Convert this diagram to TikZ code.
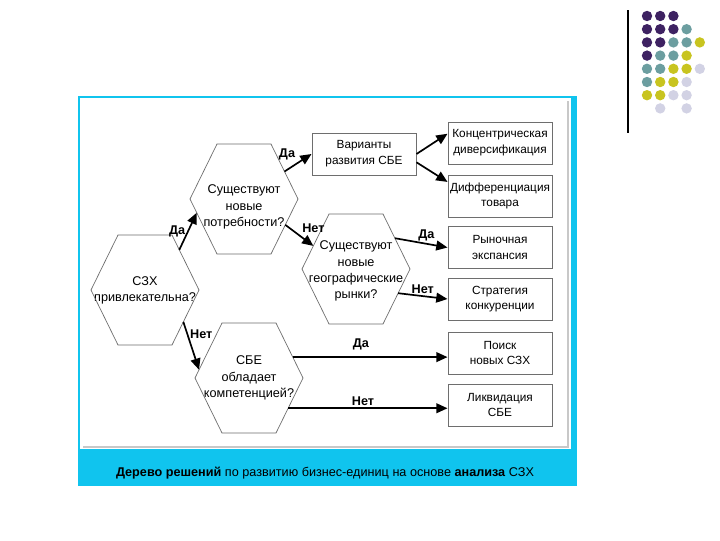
\documentclass[tikz,border=0pt]{standalone}
\usepackage{fontspec}
\setmainfont{Liberation Sans}
\usetikzlibrary{calc, positioning}
\usetikzlibrary{arrows.meta}

\definecolor{bandcyan}{RGB}{16,196,238}
\definecolor{shadowgray}{RGB}{200,200,200}
\definecolor{edgegray}{RGB}{110,110,110}
\definecolor{dotP}{RGB}{62,34,98}
\definecolor{dotT}{RGB}{108,158,160}
\definecolor{dotY}{RGB}{200,196,32}
\definecolor{dotL}{RGB}{210,210,228}
\definecolor{dotX}{RGB}{255,255,255}
\newcommand\qfont{\fontsize{9}{11.5}\selectfont}
\newcommand\bfont{\fontsize{8.4}{11.2}\selectfont}

\begin{document}
\begin{tikzpicture}[x=0.025cm, y=-0.025cm,
  qtext/.style={align=center, inner sep=0pt, font=\qfont},
  hexline/.style={draw=edgegray, line width=0.5pt},
  optbox/.style={draw=edgegray, line width=0.7pt, minimum width=2.6cm, minimum height=1.05cm, inner xsep=0pt, inner ysep=1pt, align=center, font=\bfont},
  flow/.style={line width=1.2pt, -{Triangle[length=8pt,width=7pt]}},
  yesno/.style={font=\bfseries\qfont, inner sep=1.5pt}]
\useasboundingbox (0,0) rectangle (720,540);

\draw[line width=1pt] (628,10) -- (628,133);
\foreach \j/\row in {0/{P,P,P},1/{P,P,P,T},2/{P,P,T,T,Y},3/{P,T,T,Y},4/{T,T,Y,Y,L},5/{T,Y,Y,L},6/{Y,Y,L,L},7/{X,L,X,L}}
  \foreach \c [count=\i from 0] in \row
    \fill[dot\c] (647+13.2*\i, 16+13.2*\j) circle[radius=3.7pt];

\fill[bandcyan] (78,96) rectangle (577,486);
\fill[white] (80,98) rectangle (571,449);
\draw[shadowgray, line width=2pt] (83,447) -- (568,447) -- (568,101);

\node[qtext] (Szx) at (145,290) {СЗХ\\привлекательна?};
\node[qtext] (Needs) at (244,207) {Существуют\\новые\\потребности?};
\node[qtext] (Geo) at (356,271) {Существуют\\новые\\географические\\рынки?};
\node[qtext] (Comp) at (249,378) {СБЕ\\обладает\\компетенцией?};
\foreach \h/\dy in {Szx/0,Needs/-8,Geo/-2,Comp/0}{
  \coordinate (\h W) at ($(\h)+(-54,\dy)$);
  \coordinate (\h NW) at ($(\h)+(-27,\dy-55)$);
  \coordinate (\h NE) at ($(\h)+(27,\dy-55)$);
  \coordinate (\h E) at ($(\h)+(54,\dy)$);
  \coordinate (\h SE) at ($(\h)+(27,\dy+55)$);
  \coordinate (\h SW) at ($(\h)+(-27,\dy+55)$);
  \draw[hexline] (\h W) -- (\h NW) -- (\h NE) -- (\h E) -- (\h SE) -- (\h SW) -- cycle;
}

\node[optbox] (Options) at (364,154) {Варианты\\развития СБЕ};
\node[optbox] (Conc) at (500,143) {Концентрическая\\диверсификация};
\node[optbox] (Diff) at (500,196) {Дифференциация\\товара};
\node[optbox] (Expan) at (500,247.5) {Рыночная\\экспансия};
\node[optbox] (Rival) at (500,299) {Стратегия\\конкуренции};
\node[optbox] (Search) at (500,353) {Поиск\\новых СЗХ};
\node[optbox] (Liquid) at (500,405) {Ликвидация\\СБЕ};

\draw[flow] ($(SzxNE)!.27!(SzxE)$) -- node[yesno, left] {Да} ($(NeedsW)!.25!(NeedsSW)$);
\draw[flow] ($(NeedsNE)!.5!(NeedsE)$) -- node[yesno, above left] {Да} (Options.west);
\draw[flow] ($(NeedsE)!.47!(NeedsSE)$) -- node[yesno, above right] {Нет} ($(GeoW)!.42!(GeoNW)$);
\draw[flow] ($(SzxE)!.58!(SzxSE)$) -- node[yesno, pos=.25, right] {Нет} ($(CompW)!.15!(CompNW)$);
\draw[flow] (Options.east) -- (Conc.170);
\draw[flow] (Options.-9) -- (Diff.165);
\draw[flow] ($(GeoNE)!.44!(GeoE)$) -- node[yesno, pos=.6, above] {Да} (Expan.west);
\draw[flow] ($(GeoE)!.44!(GeoSE)$) -- node[yesno, above] {Нет} (Rival.west);
\coordinate (CompYes) at ($(CompNE)!.62!(CompE)$);
\coordinate (CompNo) at ($(CompE)!.55!(CompSE)$);
\draw[flow] (CompYes) -- node[yesno, pos=.44, above=3pt] {Да} (CompYes -| Search.west);
\draw[flow] (CompNo) -- node[yesno, pos=.47, above] {Нет} (CompNo -| Liquid.west);

\node[font=\qfont] (Caption) at (325,473) {\textbf{Дерево решений} по развитию бизнес-единиц на основе \textbf{анализа} СЗХ};
\end{tikzpicture}
\end{document}
